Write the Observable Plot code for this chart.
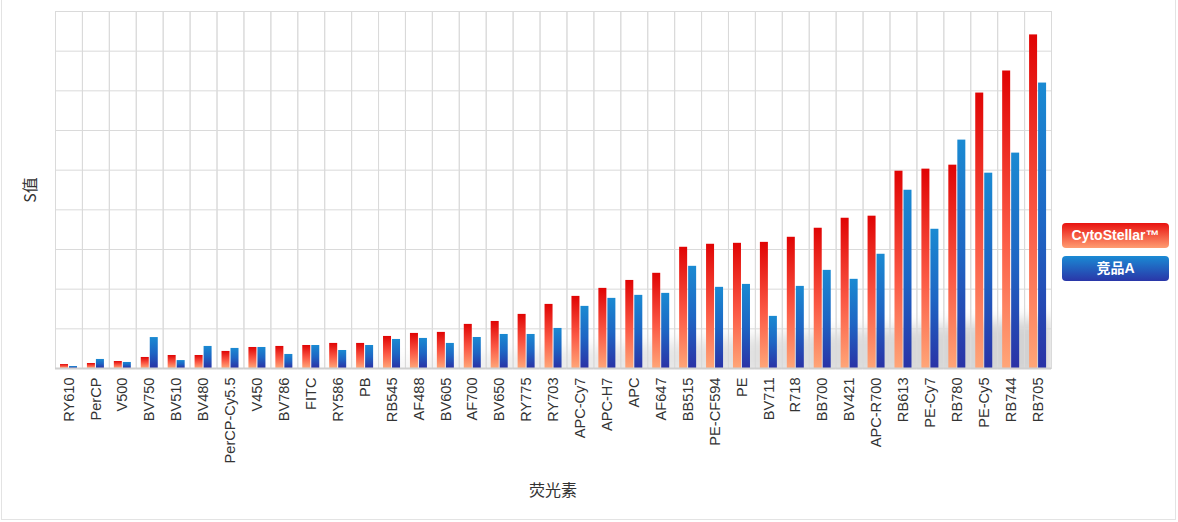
<!DOCTYPE html>
<html>
<head>
<meta charset="utf-8">
<script src="https://cdn.jsdelivr.net/npm/d3@7"></script>
<script src="https://cdn.jsdelivr.net/npm/@observablehq/plot@0.6"></script>
<style>
  html, body { margin: 0; padding: 0; background: #fff; }
  #wrap { position: relative; width: 1178px; height: 522px; overflow: hidden; }
  #bg { position: absolute; left: 0; top: 0; }
  #chart { position: absolute; left: 0; top: 0; }
  #border { position: absolute; left: 1px; top: -2px; width: 1173px; height: 520px; border: 1px solid #e3e3e3; pointer-events: none; }
  .leg { position: absolute; left: 1062px; width: 107px; height: 25px; border-radius: 4px; color: #fff;
         font: bold 14px "Liberation Sans", "Noto Sans CJK SC", sans-serif; text-align: center; line-height: 25px; }
  #leg1 { top: 223px; background: linear-gradient(#e8120f, #ff9d72); }
  #leg2 { top: 256px; background: linear-gradient(#1a8ad4, #2a36a8); }
</style>
</head>
<body>
<div id="wrap">
  <svg id="bg" width="1178" height="522"></svg>
  <div id="chart"></div>
  <div id="border"></div>
  <div class="leg" id="leg1">CytoStellar™</div>
  <div class="leg" id="leg2">竞品A</div>
</div>
<script>
const categories = ["RY610","PerCP","V500","BV750","BV510","BV480","PerCP-Cy5.5","V450","BV786","FITC","RY586","PB","RB545","AF488","BV605","AF700","BV650","RY775","RY703","APC-Cy7","APC-H7","APC","AF647","BB515","PE-CF594","PE","BV711","R718","BB700","BV421","APC-R700","RB613","PE-Cy7","RB780","PE-Cy5","RB744","RB705"];
const cytoValues = [5,6.3,8.8,13.9,16.4,16.4,21.5,26.5,27.8,29,31.6,31.6,40.4,44.2,45.5,55.6,59.3,68.2,80.8,90.9,101,111,120,152.8,156.6,157.8,159,165.4,176.8,189.4,192,248.7,251.3,256.3,347.2,375,420.5];
const compValues = [2.5,11.4,7.6,39,10,27.8,25.3,26.5,17.7,29,22.7,29,36.6,37.9,31.6,39.1,42.9,42.9,50.5,78.3,88.4,92.2,94.7,128.8,102.3,106,65.7,103.5,123.7,112.4,144,224.7,175.5,287.9,246.2,271.5,359.8];
const seriesNames = ["CytoStellar™", "竞品A"];
const yTicks = [0,50,100,150,200,250,300,350,400,450];
const xLabel = "荧光素";
const yLabel = "S值";

const rows = [];
categories.forEach((c, i) => {
  rows.push({name: c, series: seriesNames[0], value: cytoValues[i]});
  rows.push({name: c, series: seriesNames[1], value: compValues[i]});
});

const W = 1178, H = 522;
const mL = 55, mR = 127, mT = 11, mB = 154;

const plot = Plot.plot({
  width: W, height: H,
  marginLeft: mL, marginRight: mR, marginTop: mT, marginBottom: mB,
  style: {background: "transparent", fontFamily: "'Liberation Sans', Arial, sans-serif", fontSize: "14.6px", color: "#333"},
  facet: {data: rows, x: "name"},
  fx: {domain: categories, padding: 0, tickRotate: -90, tickSize: 0, tickPadding: 9, label: null},
  x: {domain: seriesNames, axis: null, paddingInner: 0.07, paddingOuter: 0.48},
  y: {domain: [0, 450], axis: null},
  marks: [
    Plot.ruleY(yTicks, {stroke: "#dadada", strokeWidth: 1}),
    Plot.frame({stroke: "#dadada", strokeWidth: 1}),
    Plot.barY(rows, {filter: d => d.series === seriesNames[0], x: "series", y: "value", fill: "url(#gRed)"}),
    Plot.barY(rows, {filter: d => d.series === seriesNames[1], x: "series", y: "value", fill: "url(#gBlue)"}),
    Plot.ruleY([0], {stroke: "#cfcfcf", strokeWidth: 2})
  ]
});

const svg = d3.select(plot);
const defs = svg.insert("defs", ":first-child");
const gr = defs.append("linearGradient").attr("id", "gRed").attr("x1", 0).attr("y1", 0).attr("x2", 0).attr("y2", 1);
gr.append("stop").attr("offset", "0").attr("stop-color", "#e00404");
gr.append("stop").attr("offset", "0.55").attr("stop-color", "#fb5844");
gr.append("stop").attr("offset", "1").attr("stop-color", "#ffa678");
const gb = defs.append("linearGradient").attr("id", "gBlue").attr("x1", 0).attr("y1", 0).attr("x2", 0).attr("y2", 1);
gb.append("stop").attr("offset", "0").attr("stop-color", "#1a8ad2");
gb.append("stop").attr("offset", "0.5").attr("stop-color", "#1e66c4");
gb.append("stop").attr("offset", "1").attr("stop-color", "#2a32a6");

svg.selectAll("text").attr("fill", "#333");

// axis titles
svg.append("text")
  .attr("x", mL + (W - mL - mR) / 2).attr("y", 496)
  .attr("text-anchor", "middle")
  .style("font-family", "'Noto Sans CJK SC', sans-serif").style("font-size", "16px").attr("fill", "#333")
  .text(xLabel);
svg.append("text")
  .attr("transform", `translate(36, ${190}) rotate(-90)`)
  .attr("text-anchor", "middle")
  .style("font-family", "'Noto Sans CJK SC', sans-serif").style("font-size", "16px").attr("fill", "#333")
  .text(yLabel);

document.getElementById("chart").appendChild(plot);

// soft background shadow near baseline (decoration)
const bg = d3.select("#bg");
const bdefs = bg.append("defs");
const f = bdefs.append("filter").attr("id", "blur").attr("x", "-10%").attr("y", "-50%").attr("width", "120%").attr("height", "200%");
f.append("feGaussianBlur").attr("stdDeviation", 7);
const sg = bdefs.append("linearGradient").attr("id", "shade").attr("x1", 0).attr("y1", 0).attr("x2", 1).attr("y2", 0);
sg.append("stop").attr("offset", "0").attr("stop-color", "#000").attr("stop-opacity", 0);
sg.append("stop").attr("offset", "0.3").attr("stop-color", "#000").attr("stop-opacity", 0.06);
sg.append("stop").attr("offset", "1").attr("stop-color", "#000").attr("stop-opacity", 0.18);
const clip = bdefs.append("clipPath").attr("id", "pclip");
const y0 = H - mB;
clip.append("rect").attr("x", mL).attr("y", mT).attr("width", W - mL - mR).attr("height", y0 - mT);
bg.append("g").attr("clip-path", "url(#pclip)")
  .append("path")
  .attr("d", `M${mL + 150},${y0 + 4} L${W - mR},${y0 - 50} L${W - mR},${y0 + 10} Z`)
  .attr("fill", "url(#shade)")
  .attr("filter", "url(#blur)");
</script>
</body>
</html>
